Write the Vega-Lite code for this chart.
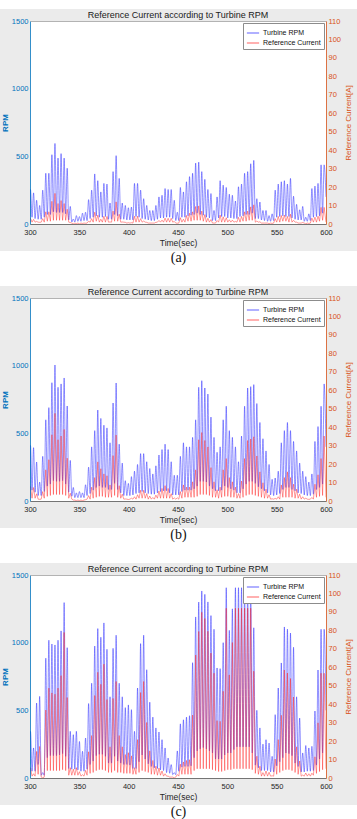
{
"$schema": "https://vega.github.io/schema/vega-lite/v6.json",
"background": "white",
"padding": {"left": 0, "right": 0, "top": 8, "bottom": 0},
"spacing": 20,
"config": {
  "font": "Liberation Sans",
  "view": {"fill": "white", "stroke": null},
  "axis": {"labelFontSize": 7.5, "titleFontSize": 8, "titleFontWeight": "normal", "ticks": false, "labelPadding": 2, "titlePadding": 2, "gridColor": "#dcdcdc", "gridWidth": 0.7, "domainWidth": 0.8, "domainColor": "#555555", "labelColor": "#262626", "titleColor": "#262626", "format": "d"},
  "axisLeft": {"labelColor": "#0072BD", "titleColor": "#0072BD", "domainColor": "#0072BD", "titleFontWeight": "bold"},
  "axisRight": {"labelColor": "#D95319", "titleColor": "#D95319", "domainColor": "#D95319", "titleAngle": 270, "titleBaseline": "top", "titlePadding": 4, "grid": false},
  "axisBottom": {"labelFlush": false, "labelPadding": 4, "titlePadding": 3, "titleFontSize": 8.5},
  "axisTop": {"labels": false, "domainColor": "#a0a0a0", "gridColor": "#eeeeee"},
  "title": {"fontSize": 9, "fontWeight": "normal", "color": "#1a1a1a", "offset": -11},
  "legend": {"orient": "top-right", "offset": 2, "fillColor": "white", "strokeColor": "#8c8c8c", "padding": 3, "labelFontSize": 7, "labelColor": "#111111", "symbolType": "stroke", "symbolSize": 150, "symbolStrokeWidth": 1, "rowPadding": 0, "labelOffset": 3, "symbolOpacity": 0.7}
},
"resolve": {"scale": {"color": "independent"}},
"datasets": {
"a": [
{"t":300,"r":60,"c":1},
{"t":300.5,"r":255,"c":3.1},{"t":302.05,"r":50,"c":1},
{"t":303.6,"r":230,"c":2.5},{"t":305.15,"r":40,"c":1},
{"t":306.7,"r":175,"c":1.4},{"t":308.25,"r":35,"c":1},
{"t":309.8,"r":137,"c":0.9},{"t":311.35,"r":35,"c":1},
{"t":312.9,"r":250,"c":2.9},{"t":314.45,"r":50,"c":1},
{"t":316.0,"r":375,"c":6.6},{"t":317.55,"r":70,"c":1.5},
{"t":319.1,"r":375,"c":6.6},{"t":320.65,"r":70,"c":1.5},
{"t":322.2,"r":512,"c":12.3},{"t":323.75,"r":90,"c":2},
{"t":325.3,"r":595,"c":16.6},{"t":326.85,"r":85,"c":2},
{"t":328.4,"r":487,"c":11.1},{"t":329.95,"r":85,"c":2},
{"t":331.5,"r":520,"c":12.7},{"t":333.05,"r":85,"c":2},
{"t":334.6,"r":487,"c":11.1},{"t":336.15,"r":75,"c":2},
{"t":337.7,"r":412,"c":8.0},{"t":339.25,"r":30,"c":1},
{"t":340.8,"r":130,"c":0.8},{"t":342.35,"r":15,"c":0.5},
{"t":343.9,"r":37,"c":0.1},{"t":345.45,"r":15,"c":0.5},
{"t":347.0,"r":62,"c":0.2},{"t":348.55,"r":20,"c":0.5},
{"t":350.1,"r":55,"c":0.1},{"t":351.65,"r":20,"c":0.5},
{"t":353.2,"r":80,"c":0.3},{"t":354.75,"r":25,"c":0.5},
{"t":356.3,"r":87,"c":0.4},{"t":357.85,"r":25,"c":0.5},
{"t":359.4,"r":180,"c":1.5},{"t":360.95,"r":40,"c":1},
{"t":362.5,"r":250,"c":2.9},{"t":364.05,"r":50,"c":1},
{"t":365.6,"r":370,"c":6.4},{"t":367.15,"r":60,"c":1.5},
{"t":368.7,"r":320,"c":4.8},{"t":370.25,"r":50,"c":1},
{"t":371.8,"r":237,"c":2.6},{"t":373.35,"r":50,"c":1},
{"t":374.9,"r":300,"c":4.2},{"t":376.45,"r":55,"c":1},
{"t":378.0,"r":295,"c":4.1},{"t":379.55,"r":35,"c":1},
{"t":381.1,"r":155,"c":1.1},{"t":382.65,"r":35,"c":1},
{"t":384.2,"r":387,"c":7.0},{"t":385.75,"r":70,"c":1.5},
{"t":387.3,"r":505,"c":12.0},{"t":388.85,"r":60,"c":1.5},
{"t":390.4,"r":337,"c":5.3},{"t":391.95,"r":35,"c":1},
{"t":393.5,"r":155,"c":1.1},{"t":395.05,"r":35,"c":1},
{"t":396.6,"r":137,"c":0.9},{"t":398.15,"r":30,"c":0.5},
{"t":399.7,"r":120,"c":0.7},{"t":401.25,"r":30,"c":0.5},
{"t":402.8,"r":125,"c":0.7},{"t":404.35,"r":30,"c":0.5},
{"t":405.9,"r":300,"c":4.2},{"t":407.45,"r":55,"c":1},
{"t":409.0,"r":300,"c":4.2},{"t":410.55,"r":50,"c":1},
{"t":412.1,"r":250,"c":2.9},{"t":413.65,"r":40,"c":1},
{"t":415.2,"r":187,"c":1.6},{"t":416.75,"r":35,"c":1},
{"t":418.3,"r":137,"c":0.9},{"t":419.85,"r":30,"c":0.5},
{"t":421.4,"r":100,"c":0.5},{"t":422.95,"r":25,"c":0.5},
{"t":424.5,"r":100,"c":0.5},{"t":426.05,"r":25,"c":0.5},
{"t":427.6,"r":137,"c":0.9},{"t":429.15,"r":35,"c":1},
{"t":430.7,"r":200,"c":1.9},{"t":432.25,"r":45,"c":1},
{"t":433.8,"r":212,"c":2.1},{"t":435.35,"r":45,"c":1},
{"t":436.9,"r":262,"c":3.2},{"t":438.45,"r":50,"c":1},
{"t":440.0,"r":255,"c":3.1},{"t":441.55,"r":50,"c":1},
{"t":443.1,"r":255,"c":3.1},{"t":444.65,"r":40,"c":1},
{"t":446.2,"r":175,"c":1.4},{"t":447.75,"r":25,"c":0.5},
{"t":449.3,"r":87,"c":0.4},{"t":450.85,"r":25,"c":0.5},
{"t":452.4,"r":270,"c":3.4},{"t":453.95,"r":50,"c":1},
{"t":455.5,"r":237,"c":2.6},{"t":457.05,"r":50,"c":1},
{"t":458.6,"r":312,"c":4.6},{"t":460.15,"r":60,"c":1.5},
{"t":461.7,"r":350,"c":5.8},{"t":463.25,"r":65,"c":1.5},
{"t":464.8,"r":375,"c":6.6},{"t":466.35,"r":70,"c":2},
{"t":467.9,"r":450,"c":9.5},{"t":469.45,"r":80,"c":2},
{"t":471.0,"r":457,"c":9.8},{"t":472.55,"r":70,"c":2},
{"t":474.1,"r":387,"c":7.0},{"t":475.65,"r":65,"c":1.5},
{"t":477.2,"r":330,"c":5.1},{"t":478.75,"r":50,"c":1},
{"t":480.3,"r":255,"c":3.1},{"t":481.85,"r":45,"c":1},
{"t":483.4,"r":225,"c":2.4},{"t":484.95,"r":25,"c":0.5},
{"t":486.5,"r":100,"c":0.5},{"t":488.05,"r":25,"c":0.5},
{"t":489.6,"r":200,"c":1.9},{"t":491.15,"r":45,"c":1},
{"t":492.7,"r":320,"c":4.8},{"t":494.25,"r":55,"c":1},
{"t":495.8,"r":287,"c":3.9},{"t":497.35,"r":55,"c":1},
{"t":498.9,"r":270,"c":3.4},{"t":500.45,"r":45,"c":1},
{"t":502.0,"r":220,"c":2.3},{"t":503.55,"r":45,"c":1},
{"t":505.1,"r":212,"c":2.1},{"t":506.65,"r":40,"c":1},
{"t":508.2,"r":170,"c":1.4},{"t":509.75,"r":40,"c":1},
{"t":511.3,"r":275,"c":3.6},{"t":512.85,"r":55,"c":1},
{"t":514.4,"r":295,"c":4.1},{"t":515.95,"r":60,"c":1.5},
{"t":517.5,"r":375,"c":6.6},{"t":519.05,"r":70,"c":1.5},
{"t":520.6,"r":387,"c":7.0},{"t":522.15,"r":70,"c":2},
{"t":523.7,"r":445,"c":9.3},{"t":525.25,"r":80,"c":2},
{"t":526.8,"r":470,"c":10.4},{"t":528.35,"r":40,"c":1},
{"t":529.9,"r":187,"c":1.6},{"t":531.45,"r":40,"c":1},
{"t":533.0,"r":162,"c":1.2},{"t":534.55,"r":30,"c":0.5},
{"t":536.1,"r":100,"c":0.5},{"t":537.65,"r":25,"c":0.5},
{"t":539.2,"r":100,"c":0.5},{"t":540.75,"r":20,"c":0.5},
{"t":542.3,"r":62,"c":0.2},{"t":543.85,"r":20,"c":0.5},
{"t":545.4,"r":75,"c":0.3},{"t":546.95,"r":25,"c":0.5},
{"t":548.5,"r":250,"c":2.9},{"t":550.05,"r":50,"c":1},
{"t":551.6,"r":295,"c":4.1},{"t":553.15,"r":55,"c":1},
{"t":554.7,"r":312,"c":4.6},{"t":556.25,"r":60,"c":1.5},
{"t":557.8,"r":320,"c":4.8},{"t":559.35,"r":55,"c":1.5},
{"t":560.9,"r":295,"c":4.1},{"t":562.45,"r":55,"c":1},
{"t":564.0,"r":337,"c":5.3},{"t":565.55,"r":45,"c":1},
{"t":567.1,"r":205,"c":2.0},{"t":568.65,"r":35,"c":1},
{"t":570.2,"r":145,"c":1.0},{"t":571.75,"r":30,"c":0.5},
{"t":573.3,"r":105,"c":0.5},{"t":574.85,"r":30,"c":0.5},
{"t":576.4,"r":130,"c":0.8},{"t":577.95,"r":20,"c":0.5},
{"t":579.5,"r":50,"c":0.1},{"t":581.05,"r":20,"c":0.5},
{"t":582.6,"r":75,"c":0.3},{"t":584.15,"r":25,"c":0.5},
{"t":585.7,"r":262,"c":3.2},{"t":587.25,"r":50,"c":1},
{"t":588.8,"r":280,"c":3.7},{"t":590.35,"r":55,"c":1},
{"t":591.9,"r":300,"c":4.2},{"t":593.45,"r":60,"c":1.5},
{"t":595.0,"r":437,"c":9.0},{"t":596.55,"r":80,"c":2},
{"t":598.1,"r":437,"c":9.0},
{"t":600,"r":200,"c":1}
],
"b": [
{"t":300,"r":100,"c":1.5},
{"t":300.5,"r":411,"c":7.9},{"t":302.05,"r":80,"c":1.5},
{"t":303.6,"r":394,"c":7.3},{"t":305.15,"r":65,"c":1.5},
{"t":306.7,"r":288,"c":3.9},{"t":308.25,"r":40,"c":1},
{"t":309.8,"r":140,"c":0.9},{"t":311.35,"r":40,"c":1},
{"t":312.9,"r":330,"c":5.1},{"t":314.45,"r":70,"c":1.5},
{"t":316.0,"r":600,"c":16.9},{"t":317.55,"r":110,"c":2.5},
{"t":319.1,"r":690,"c":22.4},{"t":320.65,"r":125,"c":3},
{"t":322.2,"r":874,"c":35.9},{"t":323.75,"r":150,"c":3.5},
{"t":325.3,"r":1005,"c":47.5},{"t":326.85,"r":145,"c":3.5},
{"t":328.4,"r":840,"c":33.2},{"t":329.95,"r":145,"c":3.5},
{"t":331.5,"r":865,"c":35.2},{"t":333.05,"r":150,"c":3.5},
{"t":334.6,"r":909,"c":38.8},{"t":336.15,"r":125,"c":3},
{"t":337.7,"r":702,"c":23.2},{"t":339.25,"r":65,"c":1.5},
{"t":340.8,"r":300,"c":4.2},{"t":342.35,"r":35,"c":1},
{"t":343.9,"r":100,"c":0.5},{"t":345.45,"r":25,"c":0.5},
{"t":347.0,"r":60,"c":0.2},{"t":348.55,"r":25,"c":0.5},
{"t":350.1,"r":70,"c":0.2},{"t":351.65,"r":25,"c":0.5},
{"t":353.2,"r":60,"c":0.2},{"t":354.75,"r":25,"c":0.5},
{"t":356.3,"r":120,"c":0.7},{"t":357.85,"r":40,"c":1},
{"t":359.4,"r":250,"c":2.9},{"t":360.95,"r":55,"c":1},
{"t":362.5,"r":400,"c":7.5},{"t":364.05,"r":80,"c":1.5},
{"t":365.6,"r":520,"c":12.7},{"t":367.15,"r":100,"c":2},
{"t":368.7,"r":672,"c":21.2},{"t":370.25,"r":110,"c":2.5},
{"t":371.8,"r":610,"c":17.5},{"t":373.35,"r":100,"c":2.5},
{"t":374.9,"r":560,"c":14.7},{"t":376.45,"r":100,"c":2},
{"t":378.0,"r":540,"c":13.7},{"t":379.55,"r":85,"c":2},
{"t":381.1,"r":430,"c":8.7},{"t":382.65,"r":85,"c":2},
{"t":384.2,"r":724,"c":24.6},{"t":385.75,"r":130,"c":3},
{"t":387.3,"r":872,"c":35.7},{"t":388.85,"r":85,"c":2},
{"t":390.4,"r":420,"c":8.3},{"t":391.95,"r":60,"c":1.5},
{"t":393.5,"r":280,"c":3.7},{"t":395.05,"r":40,"c":1},
{"t":396.6,"r":150,"c":1.1},{"t":398.15,"r":40,"c":1},
{"t":399.7,"r":130,"c":0.8},{"t":401.25,"r":40,"c":1},
{"t":402.8,"r":180,"c":1.5},{"t":404.35,"r":45,"c":1},
{"t":405.9,"r":220,"c":2.3},{"t":407.45,"r":55,"c":1},
{"t":409.0,"r":270,"c":3.4},{"t":410.55,"r":60,"c":1.5},
{"t":412.1,"r":350,"c":5.8},{"t":413.65,"r":70,"c":1.5},
{"t":415.2,"r":350,"c":5.8},{"t":416.75,"r":60,"c":1.5},
{"t":418.3,"r":290,"c":4.0},{"t":419.85,"r":55,"c":1},
{"t":421.4,"r":240,"c":2.7},{"t":422.95,"r":50,"c":1},
{"t":424.5,"r":200,"c":1.9},{"t":426.05,"r":50,"c":1},
{"t":427.6,"r":260,"c":3.2},{"t":429.15,"r":60,"c":1.5},
{"t":430.7,"r":340,"c":5.4},{"t":432.25,"r":70,"c":1.5},
{"t":433.8,"r":380,"c":6.8},{"t":435.35,"r":75,"c":1.5},
{"t":436.9,"r":420,"c":8.3},{"t":438.45,"r":75,"c":1.5},
{"t":440.0,"r":380,"c":6.8},{"t":441.55,"r":60,"c":1.5},
{"t":443.1,"r":290,"c":4.0},{"t":444.65,"r":45,"c":1},
{"t":446.2,"r":190,"c":1.7},{"t":447.75,"r":45,"c":1},
{"t":449.3,"r":190,"c":1.7},{"t":450.85,"r":45,"c":1},
{"t":452.4,"r":330,"c":5.1},{"t":453.95,"r":70,"c":1.5},
{"t":455.5,"r":430,"c":8.7},{"t":457.05,"r":80,"c":2},
{"t":458.6,"r":400,"c":7.5},{"t":460.15,"r":80,"c":2},
{"t":461.7,"r":400,"c":7.5},{"t":463.25,"r":80,"c":2},
{"t":464.8,"r":470,"c":10.4},{"t":466.35,"r":90,"c":2},
{"t":467.9,"r":600,"c":16.9},{"t":469.45,"r":110,"c":2.5},
{"t":471.0,"r":840,"c":33.2},{"t":472.55,"r":145,"c":3.5},
{"t":474.1,"r":889,"c":37.1},{"t":475.65,"r":145,"c":3.5},
{"t":477.2,"r":835,"c":32.8},{"t":478.75,"r":140,"c":3.5},
{"t":480.3,"r":790,"c":29.3},{"t":481.85,"r":110,"c":3},
{"t":483.4,"r":620,"c":18.1},{"t":484.95,"r":90,"c":2},
{"t":486.5,"r":470,"c":10.4},{"t":488.05,"r":75,"c":2},
{"t":489.6,"r":360,"c":6.1},{"t":491.15,"r":75,"c":1.5},
{"t":492.7,"r":400,"c":7.5},{"t":494.25,"r":80,"c":2},
{"t":495.8,"r":600,"c":16.9},{"t":497.35,"r":110,"c":2.5},
{"t":498.9,"r":700,"c":23.0},{"t":500.45,"r":100,"c":2.5},
{"t":502.0,"r":520,"c":12.7},{"t":503.55,"r":90,"c":2},
{"t":505.1,"r":470,"c":10.4},{"t":506.65,"r":80,"c":2},
{"t":508.2,"r":400,"c":7.5},{"t":509.75,"r":60,"c":1.5},
{"t":511.3,"r":290,"c":4.0},{"t":512.85,"r":60,"c":1.5},
{"t":514.4,"r":480,"c":10.8},{"t":515.95,"r":90,"c":2},
{"t":517.5,"r":700,"c":23.0},{"t":519.05,"r":125,"c":3},
{"t":520.6,"r":835,"c":32.8},{"t":522.15,"r":145,"c":3.5},
{"t":523.7,"r":845,"c":33.6},{"t":525.25,"r":145,"c":3.5},
{"t":526.8,"r":860,"c":34.8},{"t":528.35,"r":130,"c":3},
{"t":529.9,"r":720,"c":24.4},{"t":531.45,"r":105,"c":2.5},
{"t":533.0,"r":580,"c":15.8},{"t":534.55,"r":90,"c":2},
{"t":536.1,"r":460,"c":9.9},{"t":537.65,"r":75,"c":1.5},
{"t":539.2,"r":370,"c":6.4},{"t":540.75,"r":60,"c":1.5},
{"t":542.3,"r":270,"c":3.4},{"t":543.85,"r":45,"c":1},
{"t":545.4,"r":160,"c":1.2},{"t":546.95,"r":40,"c":1},
{"t":548.5,"r":170,"c":1.4},{"t":550.05,"r":45,"c":1},
{"t":551.6,"r":220,"c":2.3},{"t":553.15,"r":55,"c":1},
{"t":554.7,"r":430,"c":8.7},{"t":556.25,"r":85,"c":2},
{"t":557.8,"r":520,"c":12.7},{"t":559.35,"r":100,"c":2},
{"t":560.9,"r":580,"c":15.8},{"t":562.45,"r":100,"c":2},
{"t":564.0,"r":520,"c":12.7},{"t":565.55,"r":85,"c":2},
{"t":567.1,"r":440,"c":9.1},{"t":568.65,"r":75,"c":1.5},
{"t":570.2,"r":370,"c":6.4},{"t":571.75,"r":60,"c":1.5},
{"t":573.3,"r":280,"c":3.7},{"t":574.85,"r":55,"c":1},
{"t":576.4,"r":220,"c":2.3},{"t":577.95,"r":45,"c":1},
{"t":579.5,"r":180,"c":1.5},{"t":581.05,"r":40,"c":1},
{"t":582.6,"r":140,"c":0.9},{"t":584.15,"r":40,"c":1},
{"t":585.7,"r":200,"c":1.9},{"t":587.25,"r":50,"c":1},
{"t":588.8,"r":440,"c":9.1},{"t":590.35,"r":85,"c":2},
{"t":591.9,"r":550,"c":14.2},{"t":593.45,"r":100,"c":2.5},
{"t":595.0,"r":700,"c":23.0},{"t":596.55,"r":125,"c":3},
{"t":598.1,"r":865,"c":35.2},
{"t":600,"r":400,"c":2}
],
"c": [
{"t":300,"r":100,"c":2},
{"t":300.5,"r":345,"c":5.6},{"t":302.05,"r":50,"c":1},
{"t":303.6,"r":222,"c":2.3},{"t":305.15,"r":50,"c":1},
{"t":306.7,"r":554,"c":14.4},{"t":308.25,"r":100,"c":2},
{"t":309.8,"r":603,"c":17.1},{"t":311.35,"r":20,"c":0.5},
{"t":312.9,"r":40,"c":0.1},{"t":314.45,"r":20,"c":0.5},
{"t":316.0,"r":885,"c":36.8},{"t":317.55,"r":150,"c":4},
{"t":319.1,"r":1018,"c":48.7},{"t":320.65,"r":165,"c":4},
{"t":322.2,"r":990,"c":46.1},{"t":323.75,"r":165,"c":4},
{"t":325.3,"r":983,"c":45.4},{"t":326.85,"r":165,"c":4},
{"t":328.4,"r":1018,"c":48.7},{"t":329.95,"r":170,"c":4},
{"t":331.5,"r":1087,"c":55.5},{"t":333.05,"r":180,"c":4.5},
{"t":334.6,"r":1296,"c":78.9},{"t":336.15,"r":160,"c":4},
{"t":337.7,"r":963,"c":43.6},{"t":339.25,"r":70,"c":1.5},
{"t":340.8,"r":345,"c":5.6},{"t":342.35,"r":65,"c":1.5},
{"t":343.9,"r":320,"c":4.8},{"t":345.45,"r":65,"c":1.5},
{"t":347.0,"r":345,"c":5.6},{"t":348.55,"r":60,"c":1.5},
{"t":350.1,"r":270,"c":3.4},{"t":351.65,"r":50,"c":1},
{"t":353.2,"r":197,"c":1.8},{"t":354.75,"r":50,"c":1},
{"t":356.3,"r":295,"c":4.1},{"t":357.85,"r":65,"c":1.5},
{"t":359.4,"r":550,"c":14.2},{"t":360.95,"r":100,"c":2.5},
{"t":362.5,"r":700,"c":23.0},{"t":364.05,"r":125,"c":3},
{"t":365.6,"r":975,"c":44.7},{"t":367.15,"r":165,"c":4},
{"t":368.7,"r":1104,"c":57.3},{"t":370.25,"r":175,"c":4.5},
{"t":371.8,"r":1040,"c":50.8},{"t":373.35,"r":175,"c":4.5},
{"t":374.9,"r":1146,"c":61.7},{"t":376.45,"r":160,"c":4},
{"t":378.0,"r":951,"c":42.5},{"t":379.55,"r":110,"c":3},
{"t":381.1,"r":600,"c":16.9},{"t":382.65,"r":110,"c":3},
{"t":384.2,"r":958,"c":43.1},{"t":385.75,"r":160,"c":4},
{"t":387.3,"r":1055,"c":52.3},{"t":388.85,"r":125,"c":3},
{"t":390.4,"r":700,"c":23.0},{"t":391.95,"r":110,"c":3},
{"t":393.5,"r":600,"c":16.9},{"t":395.05,"r":100,"c":2.5},
{"t":396.6,"r":520,"c":12.7},{"t":398.15,"r":100,"c":2.5},
{"t":399.7,"r":540,"c":13.7},{"t":401.25,"r":95,"c":2.5},
{"t":402.8,"r":505,"c":12.0},{"t":404.35,"r":70,"c":2},
{"t":405.9,"r":345,"c":5.6},{"t":407.45,"r":70,"c":2},
{"t":409.0,"r":665,"c":20.8},{"t":410.55,"r":120,"c":3},
{"t":412.1,"r":993,"c":46.3},{"t":413.65,"r":170,"c":4},
{"t":415.2,"r":1055,"c":52.3},{"t":416.75,"r":140,"c":3.5},
{"t":418.3,"r":800,"c":30.1},{"t":419.85,"r":105,"c":3},
{"t":421.4,"r":560,"c":14.7},{"t":422.95,"r":85,"c":2},
{"t":424.5,"r":450,"c":9.5},{"t":426.05,"r":75,"c":2},
{"t":427.6,"r":370,"c":6.4},{"t":429.15,"r":70,"c":1.5},
{"t":430.7,"r":340,"c":5.4},{"t":432.25,"r":60,"c":1.5},
{"t":433.8,"r":283,"c":3.8},{"t":435.35,"r":55,"c":1},
{"t":436.9,"r":222,"c":2.3},{"t":438.45,"r":40,"c":1},
{"t":440.0,"r":148,"c":1.0},{"t":441.55,"r":35,"c":0.5},
{"t":443.1,"r":99,"c":0.5},{"t":444.65,"r":25,"c":0.5},
{"t":446.2,"r":40,"c":0.1},{"t":447.75,"r":25,"c":0.5},
{"t":449.3,"r":200,"c":1.9},{"t":450.85,"r":50,"c":1},
{"t":452.4,"r":400,"c":7.5},{"t":453.95,"r":80,"c":2},
{"t":455.5,"r":430,"c":8.7},{"t":457.05,"r":85,"c":2},
{"t":458.6,"r":450,"c":9.5},{"t":460.15,"r":85,"c":2},
{"t":461.7,"r":460,"c":9.9},{"t":463.25,"r":90,"c":2},
{"t":464.8,"r":852,"c":34.1},{"t":466.35,"r":150,"c":4},
{"t":467.9,"r":1190,"c":66.6},{"t":469.45,"r":200,"c":5},
{"t":471.0,"r":1300,"c":79.4},{"t":472.55,"r":215,"c":5},
{"t":474.1,"r":1382,"c":89.8},{"t":475.65,"r":225,"c":5},
{"t":477.2,"r":1357,"c":86.5},{"t":478.75,"r":215,"c":5},
{"t":480.3,"r":1301,"c":79.5},{"t":481.85,"r":200,"c":5},
{"t":483.4,"r":1200,"c":67.7},{"t":484.95,"r":185,"c":4.5},
{"t":486.5,"r":1099,"c":56.8},{"t":488.05,"r":140,"c":4},
{"t":489.6,"r":813,"c":31.1},{"t":491.15,"r":140,"c":3.5},
{"t":492.7,"r":808,"c":30.7},{"t":494.25,"r":140,"c":3.5},
{"t":495.8,"r":1000,"c":47.0},{"t":497.35,"r":170,"c":4},
{"t":498.9,"r":1406,"c":92},{"t":500.45,"r":185,"c":4.5},
{"t":502.0,"r":1091,"c":55.9},{"t":503.55,"r":185,"c":4.5},
{"t":505.1,"r":1250,"c":73.4},{"t":506.65,"r":210,"c":5},
{"t":508.2,"r":1406,"c":92},{"t":509.75,"r":230,"c":5},
{"t":511.3,"r":1406,"c":92},{"t":512.85,"r":230,"c":5},
{"t":514.4,"r":1406,"c":92},{"t":515.95,"r":230,"c":5},
{"t":517.5,"r":1406,"c":92},{"t":519.05,"r":230,"c":5},
{"t":520.6,"r":1406,"c":92},{"t":522.15,"r":230,"c":5},
{"t":523.7,"r":1406,"c":92},{"t":525.25,"r":185,"c":4.5},
{"t":526.8,"r":1110,"c":57.9},{"t":528.35,"r":95,"c":2.5},
{"t":529.9,"r":500,"c":11.8},{"t":531.45,"r":75,"c":2},
{"t":533.0,"r":370,"c":6.4},{"t":534.55,"r":55,"c":1},
{"t":536.1,"r":250,"c":2.9},{"t":537.65,"r":55,"c":1},
{"t":539.2,"r":283,"c":3.8},{"t":540.75,"r":55,"c":1},
{"t":542.3,"r":258,"c":3.1},{"t":543.85,"r":45,"c":1},
{"t":545.4,"r":160,"c":1.2},{"t":546.95,"r":45,"c":1},
{"t":548.5,"r":468,"c":10.3},{"t":550.05,"r":90,"c":2},
{"t":551.6,"r":665,"c":20.8},{"t":553.15,"r":120,"c":3},
{"t":554.7,"r":850,"c":34.0},{"t":556.25,"r":150,"c":4},
{"t":557.8,"r":1116,"c":58.5},{"t":559.35,"r":185,"c":4.5},
{"t":560.9,"r":1100,"c":56.9},{"t":562.45,"r":180,"c":4.5},
{"t":564.0,"r":1071,"c":53.9},{"t":565.55,"r":165,"c":4},
{"t":567.1,"r":966,"c":43.9},{"t":568.65,"r":110,"c":3},
{"t":570.2,"r":600,"c":16.9},{"t":571.75,"r":85,"c":2},
{"t":573.3,"r":443,"c":9.2},{"t":574.85,"r":45,"c":1},
{"t":576.4,"r":185,"c":1.6},{"t":577.95,"r":45,"c":1},
{"t":579.5,"r":240,"c":2.7},{"t":581.05,"r":50,"c":1},
{"t":582.6,"r":222,"c":2.3},{"t":584.15,"r":50,"c":1},
{"t":585.7,"r":234,"c":2.6},{"t":587.25,"r":55,"c":1.5},
{"t":588.8,"r":495,"c":11.5},{"t":590.35,"r":95,"c":2.5},
{"t":591.9,"r":798,"c":29.9},{"t":593.45,"r":140,"c":3.5},
{"t":595.0,"r":1099,"c":56.8},{"t":596.55,"r":185,"c":4.5},
{"t":598.1,"r":1099,"c":56.8},
{"t":600,"r":500,"c":5}
]
},
"vconcat": [
{
 "title": {"text": "(a)", "orient": "bottom", "anchor": "middle", "font": "Liberation Serif", "fontSize": 14, "fontWeight": "normal", "color": "#111111", "offset": 0},
 "resolve": {"scale": {"color": "independent"}},
 "vconcat": [{
  "title": {"text": "Reference Current according to Turbine RPM"},
  "width": 296, "height": 203,
  "layer": [
   {"layer": [
     {"data": {"values": [{}]}, "mark": {"type": "rect", "color": "#ebebeb"},
      "encoding": {"x": {"datum": 269.6, "type": "quantitative", "scale": {"domain": [300, 600], "nice": false, "zero": false}, "axis": {"zindex": 1, "title": "Time(sec)", "values": [300,350,400,450,500,550,600]}}, "x2": {"datum": 631.4}, "y": {"datum": -199.5, "type": "quantitative", "scale": {"domain": [0, 1500], "nice": false}, "axis": {"zindex": 1, "title": "RPM", "values": [0,500,1000,1500]}}, "y2": {"datum": 1588.7}}},
     {"data": {"values": [{}]}, "mark": {"type": "rect", "color": "white"},
      "encoding": {"x": {"datum": 300, "type": "quantitative", "scale": {"domain": [300, 600], "nice": false, "zero": false}, "axis": {"zindex": 1, "title": "Time(sec)", "values": [300,350,400,450,500,550,600]}}, "x2": {"datum": 600}, "y": {"datum": 0, "type": "quantitative", "scale": {"domain": [0, 1500], "nice": false}, "axis": {"zindex": 1, "title": "RPM", "values": [0,500,1000,1500]}}, "y2": {"datum": 1500}}},
     {"data": {"name": "a"}, "mark": {"type": "line", "strokeWidth": 0.9, "opacity": 0.55, "clip": true, "interpolate": "monotone"},
      "encoding": {
       "x": {"field": "t", "type": "quantitative", "scale": {"domain": [300, 600], "nice": false, "zero": false}, "axis": {"zindex": 1, "title": "Time(sec)", "values": [300,350,400,450,500,550,600]}},
       "y": {"field": "r", "type": "quantitative", "scale": {"domain": [0, 1500], "nice": false}, "axis": {"zindex": 1, "title": "RPM", "values": [0,500,1000,1500]}},
       "color": {"datum": "Turbine RPM", "type": "nominal", "scale": {"domain": ["Turbine RPM", "Reference Current"], "range": ["#2020ff", "#ff2020"]}, "legend": {"title": null}}
      }}
   ]},
   {"data": {"name": "a"}, "mark": {"type": "line", "strokeWidth": 0.9, "opacity": 0.5, "clip": true},
    "encoding": {
     "x": {"field": "t", "type": "quantitative", "axis": {"zindex": 1, "orient": "top", "values": [308.5,317,358.5,367,408.5,417,458.5,467,508.5,517,558.5,567], "title": null}},
     "y": {"field": "c", "type": "quantitative", "scale": {"domain": [0, 110], "nice": false}, "axis": {"zindex": 1, "orient": "right", "title": "Reference Current[A]", "values": [0,10,20,30,40,50,60,70,80,90,100,110]}},
     "color": {"datum": "Reference Current", "type": "nominal"}
    }}
  ],
  "resolve": {"scale": {"y": "independent"}, "axis": {"x": "independent"}}
 }]
},
{
 "title": {"text": "(b)", "orient": "bottom", "anchor": "middle", "font": "Liberation Serif", "fontSize": 14, "fontWeight": "normal", "color": "#111111", "offset": 0},
 "resolve": {"scale": {"color": "independent"}},
 "vconcat": [{
  "title": {"text": "Reference Current according to Turbine RPM"},
  "width": 296, "height": 203,
  "layer": [
   {"layer": [
     {"data": {"values": [{}]}, "mark": {"type": "rect", "color": "#ebebeb"},
      "encoding": {"x": {"datum": 269.6, "type": "quantitative", "scale": {"domain": [300, 600], "nice": false, "zero": false}, "axis": {"zindex": 1, "title": "Time(sec)", "values": [300,350,400,450,500,550,600]}}, "x2": {"datum": 631.4}, "y": {"datum": -199.5, "type": "quantitative", "scale": {"domain": [0, 1500], "nice": false}, "axis": {"zindex": 1, "title": "RPM", "values": [0,500,1000,1500]}}, "y2": {"datum": 1588.7}}},
     {"data": {"values": [{}]}, "mark": {"type": "rect", "color": "white"},
      "encoding": {"x": {"datum": 300, "type": "quantitative", "scale": {"domain": [300, 600], "nice": false, "zero": false}, "axis": {"zindex": 1, "title": "Time(sec)", "values": [300,350,400,450,500,550,600]}}, "x2": {"datum": 600}, "y": {"datum": 0, "type": "quantitative", "scale": {"domain": [0, 1500], "nice": false}, "axis": {"zindex": 1, "title": "RPM", "values": [0,500,1000,1500]}}, "y2": {"datum": 1500}}},
     {"data": {"name": "b"}, "mark": {"type": "line", "strokeWidth": 0.9, "opacity": 0.55, "clip": true, "interpolate": "monotone"},
      "encoding": {
       "x": {"field": "t", "type": "quantitative", "scale": {"domain": [300, 600], "nice": false, "zero": false}, "axis": {"zindex": 1, "title": "Time(sec)", "values": [300,350,400,450,500,550,600]}},
       "y": {"field": "r", "type": "quantitative", "scale": {"domain": [0, 1500], "nice": false}, "axis": {"zindex": 1, "title": "RPM", "values": [0,500,1000,1500]}},
       "color": {"datum": "Turbine RPM", "type": "nominal", "scale": {"domain": ["Turbine RPM", "Reference Current"], "range": ["#2020ff", "#ff2020"]}, "legend": {"title": null}}
      }}
   ]},
   {"data": {"name": "b"}, "mark": {"type": "line", "strokeWidth": 0.9, "opacity": 0.5, "clip": true},
    "encoding": {
     "x": {"field": "t", "type": "quantitative", "axis": {"zindex": 1, "orient": "top", "values": [308.5,317,358.5,367,408.5,417,458.5,467,508.5,517,558.5,567], "title": null}},
     "y": {"field": "c", "type": "quantitative", "scale": {"domain": [0, 110], "nice": false}, "axis": {"zindex": 1, "orient": "right", "title": "Reference Current[A]", "values": [0,10,20,30,40,50,60,70,80,90,100,110]}},
     "color": {"datum": "Reference Current", "type": "nominal"}
    }}
  ],
  "resolve": {"scale": {"y": "independent"}, "axis": {"x": "independent"}}
 }]
},
{
 "title": {"text": "(c)", "orient": "bottom", "anchor": "middle", "font": "Liberation Serif", "fontSize": 14, "fontWeight": "normal", "color": "#111111", "offset": 0},
 "resolve": {"scale": {"color": "independent"}},
 "vconcat": [{
  "title": {"text": "Reference Current according to Turbine RPM"},
  "width": 296, "height": 203,
  "layer": [
   {"layer": [
     {"data": {"values": [{}]}, "mark": {"type": "rect", "color": "#ebebeb"},
      "encoding": {"x": {"datum": 269.6, "type": "quantitative", "scale": {"domain": [300, 600], "nice": false, "zero": false}, "axis": {"zindex": 1, "title": "Time(sec)", "values": [300,350,400,450,500,550,600]}}, "x2": {"datum": 631.4}, "y": {"datum": -199.5, "type": "quantitative", "scale": {"domain": [0, 1500], "nice": false}, "axis": {"zindex": 1, "title": "RPM", "values": [0,500,1000,1500]}}, "y2": {"datum": 1588.7}}},
     {"data": {"values": [{}]}, "mark": {"type": "rect", "color": "white"},
      "encoding": {"x": {"datum": 300, "type": "quantitative", "scale": {"domain": [300, 600], "nice": false, "zero": false}, "axis": {"zindex": 1, "title": "Time(sec)", "values": [300,350,400,450,500,550,600]}}, "x2": {"datum": 600}, "y": {"datum": 0, "type": "quantitative", "scale": {"domain": [0, 1500], "nice": false}, "axis": {"zindex": 1, "title": "RPM", "values": [0,500,1000,1500]}}, "y2": {"datum": 1500}}},
     {"data": {"name": "c"}, "mark": {"type": "line", "strokeWidth": 0.9, "opacity": 0.55, "clip": true, "interpolate": "monotone"},
      "encoding": {
       "x": {"field": "t", "type": "quantitative", "scale": {"domain": [300, 600], "nice": false, "zero": false}, "axis": {"zindex": 1, "title": "Time(sec)", "values": [300,350,400,450,500,550,600]}},
       "y": {"field": "r", "type": "quantitative", "scale": {"domain": [0, 1500], "nice": false}, "axis": {"zindex": 1, "title": "RPM", "values": [0,500,1000,1500]}},
       "color": {"datum": "Turbine RPM", "type": "nominal", "scale": {"domain": ["Turbine RPM", "Reference Current"], "range": ["#2020ff", "#ff2020"]}, "legend": {"title": null}}
      }}
   ]},
   {"data": {"name": "c"}, "mark": {"type": "line", "strokeWidth": 0.9, "opacity": 0.5, "clip": true},
    "encoding": {
     "x": {"field": "t", "type": "quantitative", "axis": {"zindex": 1, "orient": "top", "values": [308.5,317,358.5,367,408.5,417,458.5,467,508.5,517,558.5,567], "title": null}},
     "y": {"field": "c", "type": "quantitative", "scale": {"domain": [0, 110], "nice": false}, "axis": {"zindex": 1, "orient": "right", "title": "Reference Current[A]", "values": [0,10,20,30,40,50,60,70,80,90,100,110]}},
     "color": {"datum": "Reference Current", "type": "nominal"}
    }}
  ],
  "resolve": {"scale": {"y": "independent"}, "axis": {"x": "independent"}}
 }]
}
]
}
